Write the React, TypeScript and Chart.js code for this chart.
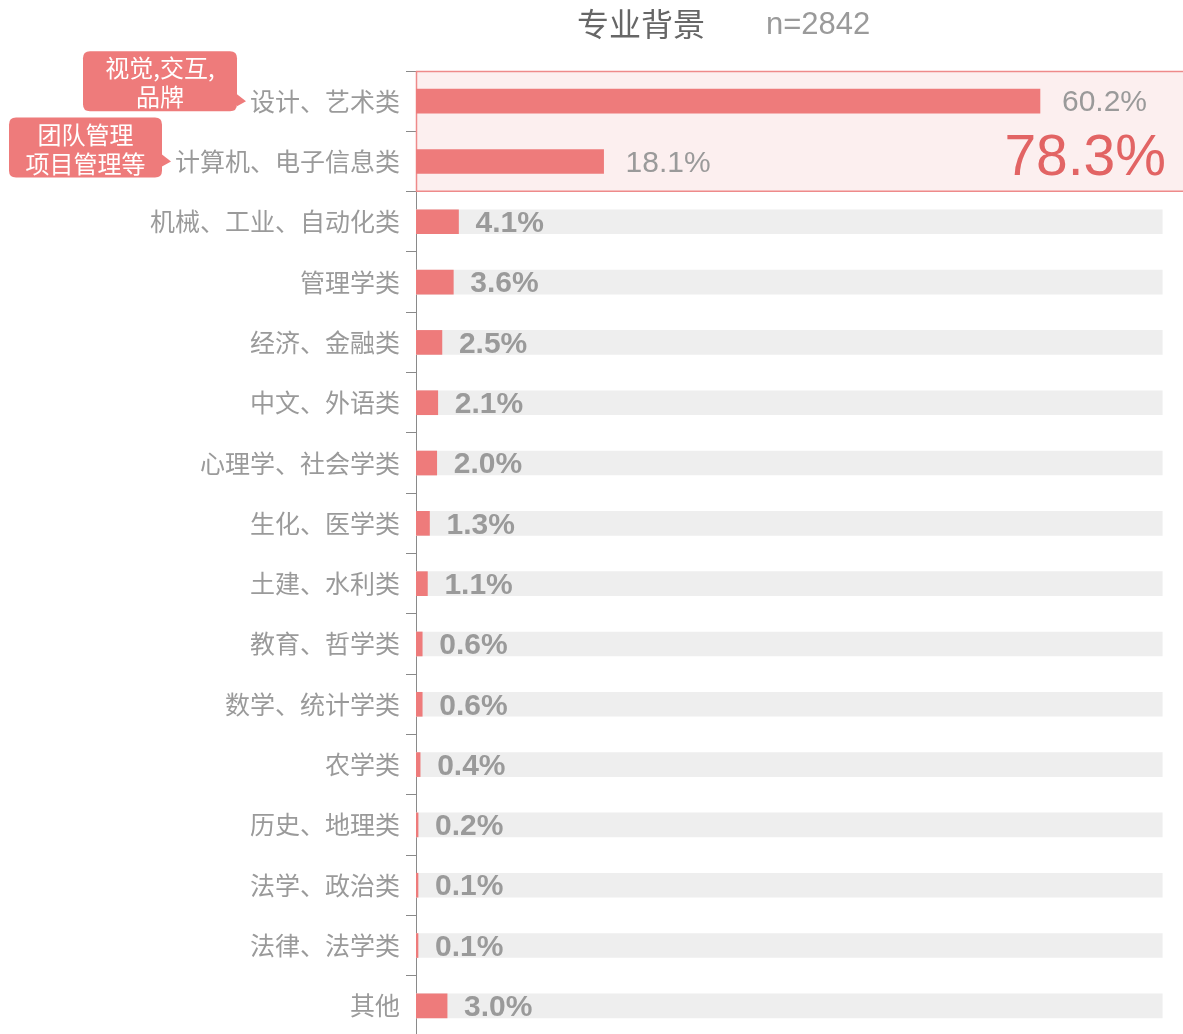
import React, { useEffect, useRef } from "react";
import { Chart, registerables } from "chart.js";

Chart.register(...registerables);

const categories = [
  "设计、艺术类",
  "计算机、电子信息类",
  "机械、工业、自动化类",
  "管理学类",
  "经济、金融类",
  "中文、外语类",
  "心理学、社会学类",
  "生化、医学类",
  "土建、水利类",
  "教育、哲学类",
  "数学、统计学类",
  "农学类",
  "历史、地理类",
  "法学、政治类",
  "法律、法学类",
  "其他",
];
const values = [60.2, 18.1, 4.1, 3.6, 2.5, 2.1, 2.0, 1.3, 1.1, 0.6, 0.6, 0.4, 0.2, 0.1, 0.1, 3.0];
const backgroundValues = [null, null, 72, 72, 72, 72, 72, 72, 72, 72, 72, 72, 72, 72, 72, 72];
const highlightTotal = "78.3%";
const titleText = "专业背景";
const sampleText = "n=2842";
const callouts = [
  { row: 0, lines: ["视觉,交互,", "品牌"] },
  { row: 1, lines: ["团队管理", "项目管理等"] },
];
const X_MAX = 74;

const RED = "#ee7b7b";
const GRAY_TEXT = "#9a9a9a";
const CJK = '"Noto Sans CJK SC", "Noto Sans", sans-serif';
const LATIN = '"Liberation Sans", Arial, sans-serif';

function roundRect(ctx: CanvasRenderingContext2D, x: number, y: number, w: number, h: number, r: number) {
  ctx.beginPath();
  ctx.moveTo(x + r, y);
  ctx.lineTo(x + w - r, y);
  ctx.quadraticCurveTo(x + w, y, x + w, y + r);
  ctx.lineTo(x + w, y + h - r);
  ctx.quadraticCurveTo(x + w, y + h, x + w - r, y + h);
  ctx.lineTo(x + r, y + h);
  ctx.quadraticCurveTo(x, y + h, x, y + h - r);
  ctx.lineTo(x, y + r);
  ctx.quadraticCurveTo(x, y, x + r, y);
  ctx.closePath();
}

const decorPlugin = {
  id: "decor",
  beforeDatasetsDraw(chart: any) {
    const ctx: CanvasRenderingContext2D = chart.ctx;
    const y = chart.scales.y;
    const area = chart.chartArea;
    const half = (y.getPixelForValue(1) - y.getPixelForValue(0)) / 2;
    const top = y.getPixelForValue(0) - half;
    const bottom = y.getPixelForValue(1) + half;
    ctx.save();
    ctx.fillStyle = "#fcefef";
    ctx.fillRect(area.left, top, chart.width - area.left, bottom - top);
    ctx.strokeStyle = "#ee8a8a";
    ctx.lineWidth = 1.5;
    ctx.beginPath();
    ctx.moveTo(area.left, top + 0.5);
    ctx.lineTo(chart.width, top + 0.5);
    ctx.moveTo(area.left, bottom - 0.5);
    ctx.lineTo(chart.width, bottom - 0.5);
    ctx.moveTo(area.left + 0.5, top);
    ctx.lineTo(area.left + 0.5, bottom);
    ctx.stroke();
    ctx.restore();
  },
  afterDatasetsDraw(chart: any) {
    const ctx: CanvasRenderingContext2D = chart.ctx;
    const meta = chart.getDatasetMeta(0);
    ctx.save();
    ctx.textBaseline = "middle";
    ctx.textAlign = "left";
    ctx.fillStyle = GRAY_TEXT;
    meta.data.forEach((bar: any, i: number) => {
      const txt = values[i].toFixed(1) + "%";
      if (i < 2) {
        ctx.font = `normal 30px ${LATIN}`;
        ctx.fillText(txt, bar.x + 22, bar.y + 2);
      } else {
        ctx.font = `bold 30px ${LATIN}`;
        ctx.fillText(txt, bar.x + 17, bar.y + 2);
      }
    });
    const y = chart.scales.y;
    ctx.font = `normal 57px ${LATIN}`;
    ctx.fillStyle = "#e26464";
    ctx.textAlign = "right";
    ctx.fillText(highlightTotal, 1166, y.getPixelForValue(1) - 2);
    ctx.restore();
  },
  afterDraw(chart: any) {
    const ctx: CanvasRenderingContext2D = chart.ctx;
    const y = chart.scales.y;
    ctx.save();
    ctx.textBaseline = "middle";
    ctx.textAlign = "left";
    ctx.fillStyle = "#666666";
    ctx.font = `normal 32px ${CJK}`;
    ctx.fillText(titleText, 577, 24);
    ctx.fillStyle = GRAY_TEXT;
    ctx.font = `normal 31px ${LATIN}`;
    ctx.fillText(sampleText, 766, 25);

    const boxes = [
      { x: 83, w: 154, off: 50 },
      { x: 9, w: 153, off: 44 },
    ];
    callouts.forEach((c, k) => {
      const cy = y.getPixelForValue(c.row);
      const b = boxes[k];
      const by = cy - b.off;
      const bh = 60;
      ctx.fillStyle = RED;
      roundRect(ctx, b.x, by, b.w, bh, 7);
      ctx.fill();
      ctx.beginPath();
      ctx.moveTo(b.x + b.w, cy - 7);
      ctx.lineTo(b.x + b.w + 9, cy);
      ctx.lineTo(b.x + b.w, cy + 5);
      ctx.closePath();
      ctx.fill();
      ctx.fillStyle = "#ffffff";
      ctx.textAlign = "center";
      ctx.font = `normal 24px ${CJK}`;
      ctx.fillText(c.lines[0], b.x + b.w / 2, by + 17);
      ctx.fillText(c.lines[1], b.x + b.w / 2, by + 46);
    });
    ctx.restore();
  },
};

export default function App() {
  const canvasRef = useRef<HTMLCanvasElement | null>(null);

  useEffect(() => {
    const canvas = canvasRef.current;
    if (!canvas) return;
    const chart = new Chart(canvas, {
      type: "bar",
      data: {
        labels: categories,
        datasets: [
          {
            data: values,
            backgroundColor: RED,
            barThickness: 24,
            minBarLength: 2,
            grouped: false,
            order: 0,
          },
          {
            data: backgroundValues as any,
            backgroundColor: "#eeeeee",
            barThickness: 24,
            grouped: false,
            order: 1,
          },
        ],
      },
      options: {
        indexAxis: "y",
        responsive: false,
        animation: false,
        layout: { padding: { top: 71, left: 0, right: 0, bottom: 0 } },
        plugins: {
          legend: { display: false },
          tooltip: { enabled: false },
          title: { display: false },
        },
        scales: {
          x: {
            display: false,
            min: 0,
            max: X_MAX,
          },
          y: {
            afterFit: (scale: any) => {
              scale.width = 416;
            },
            grid: {
              display: true,
              drawOnChartArea: false,
              drawTicks: true,
              tickLength: 10,
              color: "#8a8a8a",
              offset: true,
            },
            border: { display: true, color: "#8a8a8a", width: 1 },
            ticks: {
              color: GRAY_TEXT,
              padding: 6,
              font: { family: CJK, size: 25 },
            },
          },
        },
      },
      plugins: [decorPlugin],
    });
    return () => chart.destroy();
  }, []);

  return (
    <div style={{ position: "absolute", left: 0, top: 0, width: 1183, height: 1057, background: "#fff" }}>
      <canvas ref={canvasRef} width={1183} height={1057} />
    </div>
  );
}
